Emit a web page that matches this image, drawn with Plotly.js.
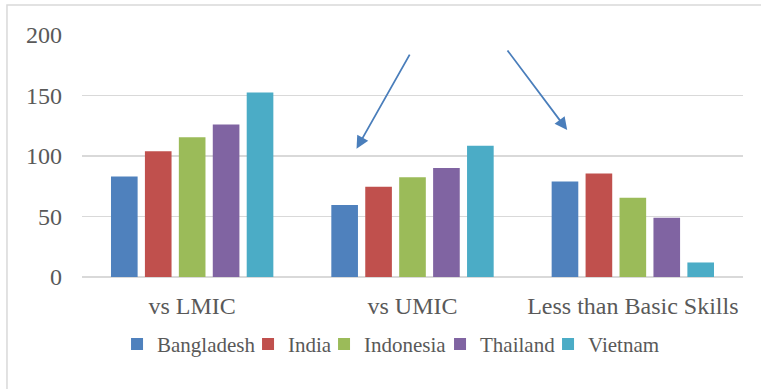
<!DOCTYPE html>
<html>
<head>
<meta charset="utf-8">
<script src="https://cdn.plot.ly/plotly-3.0.1.min.js"></script>
<style>html,body{margin:0;padding:0;background:#fff;}#chart{width:761px;height:389px;}</style>
</head>
<body>
<div id="chart"></div>
<script>
var categories = ["vs LMIC", "vs UMIC", "Less than Basic Skills"];
var countries = ["Bangladesh", "India", "Indonesia", "Thailand", "Vietnam"];
var bangladesh = [83, 59.5, 79];
var india = [104, 74.5, 85.5];
var indonesia = [115.5, 82.5, 65.5];
var thailand = [126, 90, 49];
var vietnam = [152.5, 108.5, 12];
var colors = ["#4F81BD", "#C0504D", "#9BBB59", "#8064A2", "#4BACC6"];
var tickValues = [0, 50, 100, 150, 200];
var legendWidths = [86, 31, 71, 63, 72];

var series = [bangladesh, india, indonesia, thailand, vietnam];
var font = "Liberation Serif";

var data = series.map(function (vals, i) {
  return {
    type: "bar",
    name: countries[i],
    x: categories,
    y: vals,
    marker: { color: colors[i], line: { width: 0 } },
    legendwidth: legendWidths[i],
    hoverinfo: "none"
  };
});

// arrow annotations: [tipX, tipY, tailX, tailY] in axis coordinates
var arrows = [
  [0.746, 106, 0.991, 185],
  [1.702, 121.5, 1.426, 188.5]
];

var layout = {
  width: 761,
  height: 389,
  margin: { l: 82, r: 18, t: 35, b: 111.5 },
  paper_bgcolor: "#ffffff",
  plot_bgcolor: "#ffffff",
  barmode: "group",
  bargap: 0.23,
  bargroupgap: 0.215,
  font: { family: font, color: "#595959", size: 24 },
  showlegend: true,
  legend: {
    orientation: "h",
    x: 0.053, xanchor: "left",
    y: -0.278, yanchor: "middle",
    font: { family: font, size: 21, color: "#595959" },
    traceorder: "normal"
  },
  xaxis: {
    type: "category",
    showgrid: false,
    showline: false,
    zeroline: false,
    ticks: "",
    tickfont: { family: font, size: 24, color: "#595959" },
    ticklabelstandoff: 12,
    fixedrange: true
  },
  yaxis: {
    range: [0, 200],
    tickvals: tickValues,
    showgrid: true,
    gridcolor: "#D9D9D9",
    gridwidth: 1.3,
    zeroline: true,
    zerolinecolor: "#D9D9D9",
    zerolinewidth: 1.3,
    showline: false,
    ticks: "",
    tickfont: { family: font, size: 24, color: "#595959" },
    ticklabelstandoff: 19,
    fixedrange: true
  },
  shapes: [{
    type: "rect",
    xref: "paper", yref: "paper",
    x0: -0.1135, x1: 1.2, y0: -0.6, y1: 1.1237,
    line: { color: "#D9D9D9", width: 1.5 },
    fillcolor: "rgba(0,0,0,0)",
    layer: "below"
  }],
  annotations: arrows.map(function (a) {
    return {
      x: a[0], y: a[1], xref: "x", yref: "y",
      ax: a[2], ay: a[3], axref: "x", ayref: "y",
      text: "", showarrow: true,
      arrowhead: 2, arrowsize: 1.4, arrowwidth: 1.8,
      arrowcolor: "#4A7EBB", standoff: 0
    };
  })
};

Plotly.newPlot("chart", data, layout, { displayModeBar: false, staticPlot: true });
</script>
</body>
</html>
